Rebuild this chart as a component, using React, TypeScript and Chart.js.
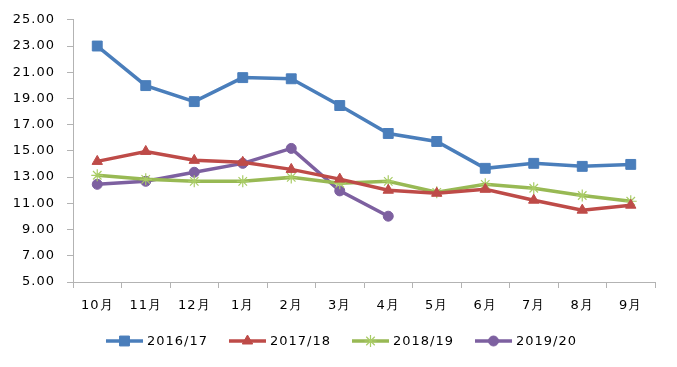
import React, { useEffect, useRef } from "react";
import { Chart, registerables } from "chart.js";
import { drawPoint } from "chart.js/helpers";

Chart.register(...registerables);

const categories = ["10月", "11月", "12月", "1月", "2月", "3月", "4月", "5月", "6月", "7月", "8月", "9月"];
const series1617 = [23.0, 19.98, 18.76, 20.59, 20.5, 18.46, 16.33, 15.72, 13.67, 14.05, 13.82, 13.97];
const series1718 = [14.2, 14.96, 14.28, 14.13, 13.59, 12.85, 12.0, 11.77, 12.07, 11.24, 10.48, 10.86];
const series1819 = [13.14, 12.83, 12.68, 12.68, 12.98, 12.53, 12.68, 11.84, 12.45, 12.15, 11.6, 11.16];
const series1920 = [12.45, 12.68, 13.37, 14.05, 15.19, 11.95, 10.02, null, null, null, null, null];
const seriesLabels = ["2016/17", "2017/18", "2018/19", "2019/20"];

const FONT = "'DejaVu Sans', Verdana, sans-serif";
const AXIS_COLOR = "#b3b3b3";

const spacingPlugin = {
  id: "spacing",
  beforeDraw(chart: any) {
    (chart.ctx as any).letterSpacing = "1px";
  },
};

const legendPlugin = {
  id: "customLegend",
  afterDraw(chart: any) {
    const ctx = chart.ctx as CanvasRenderingContext2D;
    ctx.save();
    (ctx as any).letterSpacing = "1px";
    ctx.font = `13px ${FONT}`;
    const lineLen = 37;
    const gap = 4;
    const between = 21;
    const items = chart.data.datasets.map((ds: any) => ({
      ds,
      w: lineLen + gap + ctx.measureText(ds.label).width,
    }));
    const total = items.reduce((a: number, it: any) => a + it.w, 0) + between * (items.length - 1);
    let x = chart.width / 2 + 3 - total / 2;
    const y = 341;
    items.forEach((it: any) => {
      const ds = it.ds;
      ctx.strokeStyle = ds.borderColor;
      ctx.lineWidth = ds.borderWidth;
      ctx.beginPath();
      ctx.moveTo(x, y);
      ctx.lineTo(x + lineLen, y);
      ctx.stroke();
      ctx.fillStyle = ds.pointBackgroundColor;
      ctx.strokeStyle = ds.pointBorderColor;
      ctx.lineWidth = ds.pointBorderWidth;
      drawPoint(ctx, { pointStyle: ds.pointStyle, radius: ds.pointRadius, rotation: 0, borderWidth: ds.pointBorderWidth }, x + lineLen / 2, y);
      ctx.fillStyle = "#000";
      ctx.textBaseline = "middle";
      ctx.textAlign = "left";
      ctx.fillText(ds.label, x + lineLen + gap, y + 1);
      x += it.w + between;
    });
    ctx.restore();
  },
};

export default function App() {
  const ref = useRef<HTMLCanvasElement | null>(null);
  useEffect(() => {
    if (!ref.current) return;
    const mk = (label: string, data: any[], color: string, style: string, radius: number, markerColor: string, pbw: number) => ({
      label,
      data,
      borderColor: color,
      backgroundColor: color,
      borderWidth: 3.5,
      pointStyle: style,
      pointRadius: radius,
      pointBackgroundColor: markerColor,
      pointBorderColor: markerColor,
      pointBorderWidth: pbw,
      tension: 0,
      spanGaps: false,
    });
    const chart = new Chart(ref.current, {
      type: "line",
      data: {
        labels: categories,
        datasets: [
          mk(seriesLabels[0], series1617, "#4a7ebb", "rect", 7, "#4a7ebb", 1),
          mk(seriesLabels[1], series1718, "#be4b48", "triangle", 6, "#be4b48", 1),
          mk(seriesLabels[2], series1819, "#98b954", "star", 6, "#a9cc66", 1.2),
          mk(seriesLabels[3], series1920, "#7d60a0", "circle", 5, "#7d60a0", 1),
        ],
      },
      options: {
        responsive: false,
        animation: false,
        devicePixelRatio: 1,
        layout: { padding: { left: 0, right: 22, top: 19, bottom: 45 } },
        plugins: { legend: { display: false }, tooltip: { enabled: false } },
        scales: {
          x: {
            type: "category",
            offset: true,
            grid: { offset: true, drawOnChartArea: false, drawTicks: true, tickLength: 6, color: AXIS_COLOR },
            border: { display: true, color: AXIS_COLOR, width: 1 },
            ticks: { color: "#000", font: { family: FONT, size: 13 }, padding: 10, maxRotation: 0, autoSkip: false },
            afterFit: (s: any) => { s.height = 40; },
          },
          y: {
            min: 5,
            max: 25,
            grid: { drawOnChartArea: false, drawTicks: true, tickLength: 6, color: AXIS_COLOR },
            border: { display: true, color: AXIS_COLOR, width: 1 },
            ticks: {
              stepSize: 2,
              color: "#000",
              font: { family: FONT, size: 13 },
              padding: 12,
              callback: (v: any) => Number(v).toFixed(2),
            },
            afterFit: (s: any) => { s.width = 73; },
          },
        },
      },
      plugins: [spacingPlugin, legendPlugin],
    });
    return () => chart.destroy();
  }, []);
  return (
    <canvas
      ref={ref}
      width={677}
      height={367}
      style={{ position: "absolute", left: 0, top: 0, width: 677, height: 367, display: "block" }}
    />
  );
}
